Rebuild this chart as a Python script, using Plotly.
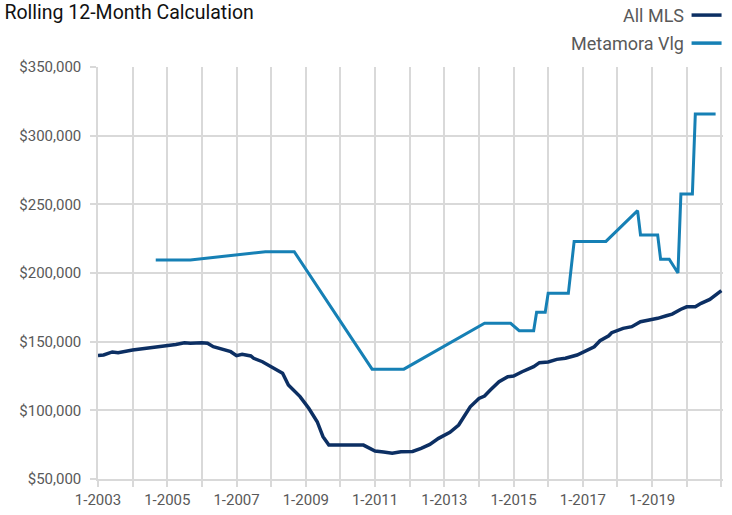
import plotly.graph_objects as go

# ---- Data ----
series_names = ["All MLS", "Metamora Vlg"]
series_colors = ["#0C2F63", "#1680B5"]

all_mls_dates = [
    "2003-01-01", "2003-03-01", "2003-06-01", "2003-08-01", "2004-01-01", "2004-05-01",
    "2004-09-01", "2005-01-01", "2005-04-01", "2005-07-01", "2005-09-01", "2006-01-01",
    "2006-03-01", "2006-05-01", "2006-09-01", "2006-11-01", "2007-01-01", "2007-03-01",
    "2007-06-01", "2007-07-01", "2007-10-01", "2008-02-01", "2008-05-01", "2008-07-01",
    "2008-11-01", "2009-02-01", "2009-05-01", "2009-07-01", "2009-09-01", "2010-09-01",
    "2010-10-01", "2011-01-01", "2011-04-01", "2011-07-01", "2011-10-01", "2012-02-01",
    "2012-05-01", "2012-08-01", "2012-11-01", "2013-03-01", "2013-06-01", "2013-08-01",
    "2013-10-01", "2014-01-01", "2014-03-01", "2014-05-01", "2014-08-01", "2014-11-01",
    "2015-01-01", "2015-04-01", "2015-07-01", "2015-08-01", "2015-10-01", "2016-01-01",
    "2016-04-01", "2016-07-01", "2016-11-01", "2017-02-01", "2017-05-01", "2017-07-01",
    "2017-10-01", "2017-11-01", "2018-03-01", "2018-06-01", "2018-09-01", "2018-12-01",
    "2019-03-01", "2019-06-01", "2019-08-01", "2019-11-01", "2020-01-01", "2020-04-01",
    "2020-06-01", "2020-09-01", "2020-11-01", "2021-01-01",
]
all_mls_values = [
    140000, 140300, 142500, 142000, 144000, 145000,
    146600, 147300, 148000, 149200, 148800, 149200,
    148800, 146300, 143900, 142700, 139800, 140800,
    139600, 137900, 135400, 130600, 127000, 118400,
    110000, 101500, 91700, 80800, 74700, 74700,
    73500, 70400, 69600, 68700, 69900, 70100,
    72300, 75200, 79600, 84000, 89300, 95400,
    102600, 108700, 110400, 114800, 120800, 124500,
    125000, 128100, 130600, 131800, 134700, 135200,
    137100, 137900, 140300, 143200, 146300, 150700,
    154300, 156500, 159700, 160900, 164500, 165800,
    167000, 168900, 170100, 173600, 175400, 175400,
    177900, 180800, 183900, 187100,
]

metamora_dates = [
    "2004-09-01", "2005-09-01", "2007-11-01", "2008-09-01", "2010-12-01", "2011-11-01",
    "2014-03-01", "2014-12-01", "2015-03-01", "2015-08-01", "2015-09-01", "2015-12-01",
    "2016-01-01", "2016-08-01", "2016-10-01", "2017-09-01", "2018-08-01", "2018-09-01",
    "2019-03-01", "2019-04-01", "2019-07-01", "2019-10-01", "2019-11-01", "2020-03-01",
    "2020-04-01", "2020-11-01",
]
metamora_values = [
    209500, 209500, 215500, 215500, 130000, 130000,
    163400, 163400, 158000, 158000, 171400, 171400,
    185200, 185200, 223000, 223000, 245400, 227700,
    227700, 210000, 210000, 200000, 257500, 257500,
    315800, 315800,
]

title_text = "Rolling 12-Month Calculation"
y_range = [50000, 350000]
x_range = ["2003-01-01", "2021-01-18"]

FONT = "Roboto, Liberation Sans, sans-serif"
GRID = "#D9D9D9"
TXT = "#595959"

fig = go.Figure()
fig.add_trace(go.Scatter(x=all_mls_dates, y=all_mls_values, mode="lines",
                         name=series_names[0],
                         line=dict(color=series_colors[0], width=3.5)))
fig.add_trace(go.Scatter(x=metamora_dates, y=metamora_values, mode="lines",
                         name=series_names[1],
                         line=dict(color=series_colors[1], width=3)))

fig.update_layout(
    width=732, height=515,
    margin=dict(l=98, r=9, t=67, b=36, autoexpand=False),
    paper_bgcolor="white", plot_bgcolor="white",
    showlegend=False,
    font=dict(family=FONT, color=TXT, size=15),
    title=dict(text=title_text, x=0.006, xanchor="left", xref="container",
               y=0.977, yanchor="middle", yref="container",
               font=dict(family=FONT, size=19.5, color="#111111")),
)

fig.update_xaxes(
    type="date", range=x_range, automargin=False,
    dtick="M24", tick0="2003-01-01", tickformat="%-m-%Y",
    showgrid=True, gridcolor=GRID, gridwidth=1.5,
    ticks="outside", ticklen=6, tickcolor=GRID, tickwidth=1.5,
    minor=dict(dtick="M12", tick0="2003-01-01", showgrid=True, gridcolor=GRID,
               gridwidth=1.5, ticks="outside", ticklen=6, tickcolor=GRID, tickwidth=1.5),
    showline=True, linecolor=GRID, linewidth=2,
    tickfont=dict(size=15, color=TXT), zeroline=False,
)
fig.update_yaxes(
    range=y_range, dtick=50000, tickprefix="$", tickformat=",.0f", automargin=False,
    showgrid=True, gridcolor=GRID, gridwidth=1.5,
    ticks="outside", ticklen=6, tickcolor=GRID, tickwidth=1.5,
    showline=True, linecolor=GRID, linewidth=1.5,
    tickfont=dict(size=15, color=TXT), zeroline=False,
    ticklabelstandoff=6,
)

# Legend drawn as text followed by a line key (as in the reference)
legend_y = [1.126, 1.058]
for name, color, ly in zip(series_names, series_colors, legend_y):
    fig.add_annotation(text=name, xref="paper", yref="paper", x=0.940, y=ly,
                       xanchor="right", yanchor="middle", showarrow=False,
                       font=dict(family=FONT, size=18, color=TXT))
    fig.add_shape(type="line", xref="paper", yref="paper", x0=0.9497, x1=0.9977,
                  y0=ly, y1=ly, line=dict(color=color, width=3.5))

fig.write_html("out.html", config={"displayModeBar": False},
               post_script="document.body.style.margin='0';")
